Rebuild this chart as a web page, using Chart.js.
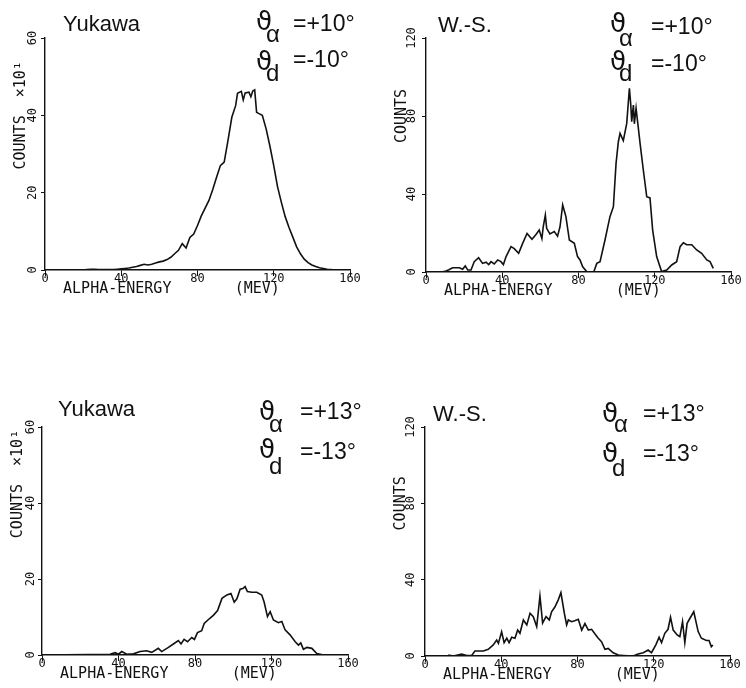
<!DOCTYPE html>
<html>
<head>
<meta charset="utf-8">
<script src="https://cdn.jsdelivr.net/npm/chart.js@4.4.1/dist/chart.umd.min.js"></script>
<style>
  body { margin: 0; background: #fff; }
  #wrap { position: relative; width: 746px; height: 688px; overflow: hidden; background: #fff; }
  canvas { position: absolute; }
  .lbl { position: absolute; line-height: 1; white-space: pre; color: #111; font-family: "Liberation Sans", Arial, sans-serif; }
  .name { font-size: 22px; }
  .val { font-size: 23px; }
  .th { font-family: "DejaVu Sans", sans-serif; font-size: 26px; }
  .sb { font-size: 24px; }
</style>
</head>
<body>
<div id="wrap">
  <canvas id="c1" width="373" height="330" style="left:0;top:0"></canvas>
  <canvas id="c2" width="373" height="330" style="left:373px;top:0"></canvas>
  <canvas id="c3" width="373" height="308" style="left:0;top:380px"></canvas>
  <canvas id="c4" width="373" height="308" style="left:373px;top:380px"></canvas>

  <!-- panel labels -->
  <div class="lbl name" style="left:63px;top:13px">Yukawa</div>
  <div class="lbl th" style="left:256px;top:8px">ϑ</div>
  <div class="lbl sb" style="left:266px;top:22px">α</div>
  <div class="lbl val" style="left:293px;top:12px">=+10°</div>
  <div class="lbl th" style="left:256px;top:48px">ϑ</div>
  <div class="lbl sb" style="left:266px;top:61px">d</div>
  <div class="lbl val" style="left:293px;top:48px">=-10°</div>

  <div class="lbl name" style="left:438px;top:14px">W.-S.</div>
  <div class="lbl th" style="left:610px;top:10px">ϑ</div>
  <div class="lbl sb" style="left:619px;top:26px">α</div>
  <div class="lbl val" style="left:651px;top:15px">=+10°</div>
  <div class="lbl th" style="left:610px;top:48px">ϑ</div>
  <div class="lbl sb" style="left:619px;top:61px">d</div>
  <div class="lbl val" style="left:651px;top:52px">=-10°</div>

  <div class="lbl name" style="left:58px;top:398px">Yukawa</div>
  <div class="lbl th" style="left:259px;top:398px">ϑ</div>
  <div class="lbl sb" style="left:269px;top:412px">α</div>
  <div class="lbl val" style="left:300px;top:400px">=+13°</div>
  <div class="lbl th" style="left:259px;top:436px">ϑ</div>
  <div class="lbl sb" style="left:269px;top:454px">d</div>
  <div class="lbl val" style="left:300px;top:440px">=-13°</div>

  <div class="lbl name" style="left:433px;top:403px">W.-S.</div>
  <div class="lbl th" style="left:602px;top:400px">ϑ</div>
  <div class="lbl sb" style="left:614px;top:412px">α</div>
  <div class="lbl val" style="left:643px;top:402px">=+13°</div>
  <div class="lbl th" style="left:602px;top:440px">ϑ</div>
  <div class="lbl sb" style="left:612px;top:456px">d</div>
  <div class="lbl val" style="left:643px;top:442px">=-13°</div>
</div>

<script>
// axis ticks (MeV / counts)
const energyTicks = [0, 40, 80, 120, 160];
const yukawaTicks = [0, 20, 40, 60];
const wsTicks = [0, 40, 80, 120];

// Yukawa, theta_alpha = +10, theta_d = -10 (counts x10)
const yuk10Energy = [0, 4, 8, 12, 16, 20, 22, 24, 26, 28, 32, 36, 38,
  40, 42, 44, 46, 48, 50, 52, 54, 56, 58, 60, 62, 64, 66, 68, 70, 72, 74, 76, 78, 80,
  82, 84, 86, 88, 90, 92, 94, 96, 98, 100,
  101, 103, 104, 105, 107, 108, 109, 110, 111, 112,
  114, 116, 118, 120, 122, 124, 126, 128, 130, 132, 134, 136, 138, 140, 142, 144, 146, 148, 150, 152];
const yuk10Counts = [0, 0, 0, 0, 0, 0, 0.1, 0.2, 0.2, 0.1, 0.1, 0.1, 0.2,
  0.3, 0.4, 0.5, 0.7, 0.9, 1.2, 1.5, 1.3, 1.5, 1.8, 2.1, 2.3, 2.7, 3.3, 4.2, 5.1, 6.8, 5.7, 8.4, 9.3, 11.5,
  14.0, 16.0, 18.0, 20.8, 24.0, 27.0, 27.9, 33.5, 39.5, 42.5,
  45.7, 46.2, 44.0, 45.8, 46.0, 44.8, 46.3, 46.6, 40.8, 40.5,
  40.0, 36.5, 32.0, 27.0, 21.5, 17.5, 13.8, 11.0, 8.5, 6.0, 4.2, 2.8, 1.9, 1.3, 0.9, 0.6, 0.4, 0.2, 0.1, 0];

// W.-S., theta_alpha = +10, theta_d = -10
const ws10Energy = [8, 10, 12, 14, 17.5, 19.2, 20.6, 21.9, 23.6, 25.3, 27.6, 29.7, 31.5, 32.9, 34.1,
  35.8, 37.6, 39.3, 40.6, 42, 44.6, 46.3, 48.6, 50.7, 53, 55.6, 57.7, 59.4, 60.8, 61.5, 62.6,
  63.3, 65, 67.3, 69, 70.3, 71.7, 73.4, 75.2, 77.8, 79.5, 80.8, 82.2, 84.5, 88, 89.6, 91.3,
  93.9, 96.5, 98.3, 99.7, 100.9, 101.8, 103.5, 105.3, 106.7, 107.4, 107.9, 108.8, 109.3, 110.2,
  112.3, 114, 115.8, 117.5, 118.9, 121, 123.6, 126.3, 128.9, 131.5, 133.3, 135, 136.8, 139.4,
  142, 144.6, 147.3, 149, 150.7];
const ws10Counts = [0, 0.3, 1.2, 2.2, 2.2, 1.4, 3.1, 1.0, 1.0, 5.3, 7.3, 4.4, 5.0, 3.8, 5.3,
  4.1, 6.2, 5.3, 3.8, 7.9, 13, 12, 9.6, 14.7, 19.8, 16.8, 19.2, 21.5, 17.1, 23.2, 29.2,
  22.4, 19.5, 20.7, 18.4, 23.2, 34.4, 28.4, 16.4, 14.7, 7.9, 6.2, 2.7, 0, 0, 4.4, 5.3,
  16.4, 28.4, 33.5, 55.7, 66.8, 71.1, 67.4, 76.2, 94.2, 86, 77.1, 85.6, 76, 84,
  66, 52.3, 38.6, 38, 21.5, 7.9, 0.2, 1, 3.6, 5.3, 13, 15, 14, 14,
  11.3, 9.6, 6.2, 5.3, 1.9];

// Yukawa, theta_alpha = +13, theta_d = -13 (counts x10)
const yuk13Energy = [0, 35.6, 38.2, 40, 41.7, 44.3, 47.8, 51.3, 54.7, 57.4, 60.8, 62.6, 66.1, 68.7,
  71.3, 72.7, 74.3, 76.1, 78.3, 79.7, 81.3, 83.5, 84.8, 87.6, 89.7, 91.8, 94.1, 96.7, 98.8,
  100.5, 101.9, 103.6, 105, 106.2, 107.4, 109.7, 112.3, 114.9, 116.1, 117.9, 119.3, 121,
  123.6, 125.4, 127.1, 129.7, 132.4, 134.1, 135.3, 136.7, 138.5, 141.1, 143.7, 147.2, 151];
const yuk13Counts = [0, 0.2, 0.6, 0.2, 0.9, 0.2, 0.3, 0.9, 1.1, 0.7, 1.75, 0.9, 2.0, 2.9,
  3.8, 2.9, 4.1, 3.5, 4.6, 4.1, 5.9, 6.4, 8.3, 9.6, 10.5, 11.7, 14.9, 15.8, 16.2,
  13.9, 14.8, 17.3, 17.5, 18.0, 16.7, 16.5, 16.5, 15.8, 14.0, 10.1, 11.4, 9.2,
  8.5, 8.8, 6.6, 5.3, 3.5, 2.6, 3.2, 1.5, 2.0, 1.75, 0.4, 0, 0];

// W.-S., theta_alpha = +13, theta_d = -13
const ws13Energy = [12.2, 14.9, 19.2, 21.9, 24.5, 26.2, 30.6, 33.2, 35.8, 37.6, 38.5, 40.2, 41.5,
  42.9, 44.1, 45.5, 47.2, 48.6, 49.8, 51.6, 53.4, 55.1, 56.8, 58.6, 60.3, 61.7, 63.5, 65.2,
  66.4, 68.2, 69.9, 71.3, 73.1, 74.3, 75.2, 76.9, 78.5, 80.4, 82.2, 83.9, 85.7, 87.4, 89.2,
  90.9, 92.6, 94.4, 96.1, 98.7, 101.4, 104, 109.2, 111.8, 114.5, 117.1, 118.8, 121.1, 122.8,
  124.1, 125.8, 127.5, 128.8, 130.2, 132.3, 133.7, 135.1, 136.3, 137.5, 139.3, 141, 143.3,
  145, 147.6, 149, 150.2, 151];
const ws13Counts = [0.5, 0, 1.0, 0.3, 0.3, 2.6, 2.6, 3.5, 5.8, 8.4, 6.6, 12.7, 7,
  9.3, 7, 9.8, 9.3, 13.6, 11.9, 18.9, 16.3, 22.4, 20.6, 15.4, 31.4, 17.3, 20.6, 18.9,
  23.2, 25.8, 29.4, 33.2, 22.4, 16.3, 18.9, 18, 18.5, 19.2, 13.6, 17, 13.6, 14, 11.5,
  9.3, 7.5, 3.5, 4, 1.7, 0.5, 0.3, 0, 1, 1.7, 3.1, 1.7, 5.8, 9.8,
  7, 11.9, 14, 20.3, 13.6, 11, 10.1, 18, 7, 17.1, 20.3, 23.2, 12.8,
  9.3, 8.1, 8.1, 4.9, 5.8];

const ink = '#111';
const mono = '"DejaVu Sans Mono", "Liberation Mono", monospace';

// rotated y tick labels and y title, placed with the chart's own y scale
const yLabels = {
  id: 'yLabels',
  afterDraw(chart, args, opts) {
    const { ctx, chartArea, scales: { y } } = chart;
    ctx.save();
    ctx.fillStyle = ink;
    ctx.textAlign = 'center';
    ctx.textBaseline = 'bottom';
    ctx.font = '12px ' + mono;
    y.ticks.forEach(t => {
      ctx.save();
      ctx.translate(chartArea.left - opts.gap, y.getPixelForValue(t.value));
      ctx.rotate(-Math.PI / 2);
      ctx.fillText(String(t.value), 0, 0);
      ctx.restore();
    });
    ctx.font = '15px ' + mono;
    ctx.textBaseline = 'middle';
    ctx.translate(chartArea.left - 24, y.getPixelForValue(opts.at));
    ctx.rotate(-Math.PI / 2);
    ctx.fillText(opts.title, 0, 0);
    ctx.restore();
  }
};

function spectrum(id, energy, counts, yTicks, pad, yTitle, titleAt, gap) {
  const pts = energy.map((e, i) => ({ x: e, y: counts[i] }));
  return new Chart(document.getElementById(id), {
    type: 'line',
    data: {
      datasets: [{
        data: pts,
        borderColor: ink,
        borderWidth: 1.6,
        pointRadius: 0,
        tension: 0
      }]
    },
    options: {
      responsive: false,
      animation: false,
      events: [],
      layout: { padding: pad },
      plugins: {
        legend: { display: false },
        tooltip: { enabled: false },
        yLabels: { title: yTitle, at: titleAt, gap: gap }
      },
      scales: {
        x: {
          type: 'linear',
          min: energyTicks[0],
          max: energyTicks[energyTicks.length - 1],
          afterFit: s => { s.height = 28; },
          ticks: {
            stepSize: energyTicks[1] - energyTicks[0],
            color: ink,
            padding: -4,
            font: { family: mono, size: 12 }
          },
          grid: { drawOnChartArea: false, drawTicks: true, tickLength: 6, color: ink },
          border: { display: true, color: ink, width: 1.4 },
          title: {
            display: true,
            text: '  ALPHA-ENERGY       (MEV)',
            align: 'start',
            color: ink,
            padding: 0,
            font: { family: mono, size: 15 }
          }
        },
        y: {
          min: yTicks[0],
          max: yTicks[yTicks.length - 1],
          afterFit: s => { s.width = 36; },
          ticks: { stepSize: yTicks[1] - yTicks[0], display: false },
          grid: { drawOnChartArea: false, drawTicks: true, tickLength: 4, color: ink },
          border: { display: true, color: ink, width: 1.4 }
        }
      }
    },
    plugins: [yLabels]
  });
}

spectrum('c1', yuk10Energy, yuk10Counts, yukawaTicks, { left: 9, right: 23, top: 38, bottom: 32 }, 'COUNTS  ×10¹', 40, 6);
spectrum('c2', ws10Energy, ws10Counts, wsTicks, { left: 17, right: 15, top: 38, bottom: 30 }, 'COUNTS', 80, 8);
spectrum('c3', yuk13Energy, yuk13Counts, yukawaTicks, { left: 6, right: 25, top: 47, bottom: 5 }, 'COUNTS  ×10¹', 45, 5);
spectrum('c4', ws13Energy, ws13Counts, wsTicks, { left: 16, right: 16, top: 47, bottom: 4 }, 'COUNTS', 80, 8);
</script>
</body>
</html>
